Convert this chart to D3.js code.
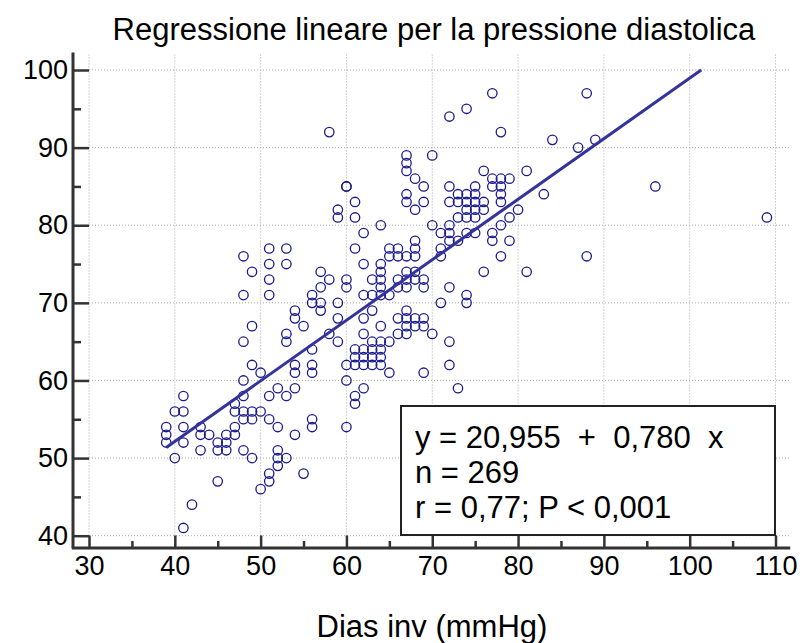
<!DOCTYPE html>
<html>
<head>
<meta charset="utf-8">
<script src="https://cdn.jsdelivr.net/npm/d3@7"></script>
<style>
  body { margin: 0; background: #fff; }
  svg { display: block; font-family: "Liberation Sans", Arial, sans-serif; }
</style>
</head>
<body>
<div id="chart"></div>
<script>
// Data: each x value with the y values plotted above it
const diasInv = [39, 40, 41, 42, 43, 44, 45, 46, 47, 48, 49, 50, 51, 52, 53, 54, 55, 56, 57, 58,
  59, 60, 61, 62, 63, 64, 65, 66, 67, 68, 69, 70, 71, 72, 73, 74, 75, 76, 77, 78, 79, 80, 81, 83,
  84, 87, 88, 89, 96, 109];
const diasRef = [
  [54, 53, 52], [56, 50], [58, 56, 54, 52, 41], [44], [54, 53, 51], [53], [52, 51, 47], [53, 52, 51],
  [57, 56, 54, 53], [76, 71, 65, 60, 58, 56, 55, 51], [74, 67, 62, 56, 55, 50], [61, 56, 46],
  [77, 75, 73, 71, 58, 55, 48, 47], [59, 54, 51, 50, 49], [77, 75, 66, 65, 58, 50],
  [69, 68, 62, 61, 59, 53], [67, 48], [71, 70, 64, 62, 61, 55, 54], [74, 72, 70, 69], [92, 73, 66],
  [82, 81, 70, 68, 65], [85, 85, 73, 72, 62, 60, 54], [83, 81, 77, 64, 63, 62, 58, 57],
  [79, 75, 71, 68, 66, 64, 63, 62, 59], [73, 71, 69, 65, 64, 63, 62],
  [80, 75, 74, 73, 72, 71, 67, 65, 64, 63, 62], [77, 76, 71, 65, 61], [77, 76, 73, 72, 68, 66],
  [89, 88, 87, 84, 83, 76, 74, 73, 72, 69, 68, 67, 66], [86, 82, 78, 77, 76, 74, 73, 68, 67],
  [85, 83, 73, 72, 68, 67, 61], [89, 80, 66], [79, 77, 76, 70], [94, 85, 83, 80, 79, 78, 72, 65, 62],
  [84, 83, 81, 78, 59], [95, 84, 83, 82, 81, 79, 71, 70], [85, 84, 83, 82, 81, 79], [87, 83, 82, 74],
  [97, 86, 85, 79, 78], [92, 86, 85, 84, 83, 80, 76], [86, 81, 78], [82], [87, 74], [84], [91], [90],
  [97, 76], [91], [85], [81]
];

// Regression results printed in the box
const intercept = 20.955, slope = 0.780;
const statLines = ["y = 20,955  +  0,780  x", "n = 269", "r = 0,77; P < 0,001"];

const xTicks = [30, 40, 50, 60, 70, 80, 90, 100, 110];
const xMinor = [35, 45, 55, 65, 75, 85, 95, 105];
const yTicks = [40, 50, 60, 70, 80, 90, 100];
const yMinor = [45, 55, 65, 75, 85, 95];

const points = [];
diasInv.forEach((xv, i) => diasRef[i].forEach(yv => points.push({ x: xv, y: yv })));

const width = 805, height = 643;
const svg = d3.select("#chart").append("svg")
    .attr("width", width)
    .attr("height", height);

const x = d3.scaleLinear().domain([30, 110]).range([89, 775.5]);
const y = d3.scaleLinear().domain([40, 100]).range([535.7, 70]);
const xEnd = 111.6, yTop = 102;
const axisX = 73, axisY = 548;
const ink = "#333";

// Dotted grid
const grid = svg.append("g")
    .attr("stroke", "#a8a8a8")
    .attr("stroke-width", 1)
    .attr("stroke-dasharray", "1,2");
grid.selectAll(".gx").data(xTicks).join("line")
    .attr("x1", d => x(d)).attr("x2", d => x(d))
    .attr("y1", y(yTop)).attr("y2", y(40));
grid.selectAll(".gy").data(yTicks).join("line")
    .attr("x1", x(30)).attr("x2", x(xEnd))
    .attr("y1", d => y(d)).attr("y2", d => y(d));

// Axes (detached from the plot area, ticks pointing inward)
const gx = svg.append("g").attr("transform", `translate(0,${axisY})`)
    .call(d3.axisBottom(x).tickValues(xTicks).tickSize(-12.5).tickPadding(8));
const gxm = svg.append("g").attr("transform", `translate(0,${axisY})`)
    .call(d3.axisBottom(x).tickValues(xMinor).tickSize(-7).tickFormat(""));
const gy = svg.append("g").attr("transform", `translate(${axisX},0)`)
    .call(d3.axisLeft(y).tickValues(yTicks).tickSize(-16).tickPadding(5));
const gym = svg.append("g").attr("transform", `translate(${axisX},0)`)
    .call(d3.axisLeft(y).tickValues(yMinor).tickSize(-8).tickFormat(""));

[gx, gxm, gy, gym].forEach(g => {
  g.select(".domain").remove();
  g.selectAll("line").attr("stroke", ink).attr("stroke-width", 2.5);
  g.selectAll("text").attr("fill", "#000").style("font-size", "27px");
});
gx.selectAll("text").attr("dy", "0.72em");

svg.append("line")
    .attr("x1", axisX - 1.25).attr("x2", x(xEnd) + 1)
    .attr("y1", axisY).attr("y2", axisY)
    .attr("stroke", ink).attr("stroke-width", 3);
svg.append("line")
    .attr("x1", axisX).attr("x2", axisX)
    .attr("y1", y(yTop) - 2).attr("y2", axisY)
    .attr("stroke", ink).attr("stroke-width", 3);

// Scatter points
svg.append("g")
    .attr("fill", "none")
    .attr("stroke", "#1a1a8f")
    .attr("stroke-width", 1.3)
  .selectAll("circle").data(points).join("circle")
    .attr("cx", d => x(d.x))
    .attr("cy", d => y(d.y))
    .attr("r", 4.7);

// Regression line, from the smallest x up to y = 100
const x0 = d3.min(points, d => d.x);
const x1 = (100 - intercept) / slope;
svg.append("path")
    .attr("d", d3.line().x(d => x(d)).y(d => y(intercept + slope * d))([x0, x1]))
    .attr("fill", "none")
    .attr("stroke", "#333399")
    .attr("stroke-width", 3);

// Statistics box
const box = svg.append("g");
box.append("rect")
    .attr("x", 401).attr("y", 406)
    .attr("width", 374).attr("height", 129)
    .attr("fill", "#fff")
    .attr("stroke", "#222")
    .attr("stroke-width", 2);
box.selectAll("text").data(statLines).join("text")
    .attr("x", 415)
    .attr("y", (d, i) => 448 + i * 35)
    .style("font-size", "31px")
    .style("white-space", "pre")
    .text(d => d);

// Titles
svg.append("text")
    .attr("x", 434).attr("y", 40)
    .attr("text-anchor", "middle")
    .style("font-size", "31px")
    .text("Regressione lineare per la pressione diastolica");
svg.append("text")
    .attr("x", 432).attr("y", 637)
    .attr("text-anchor", "middle")
    .style("font-size", "31px")
    .text("Dias inv (mmHg)");
</script>
</body>
</html>
